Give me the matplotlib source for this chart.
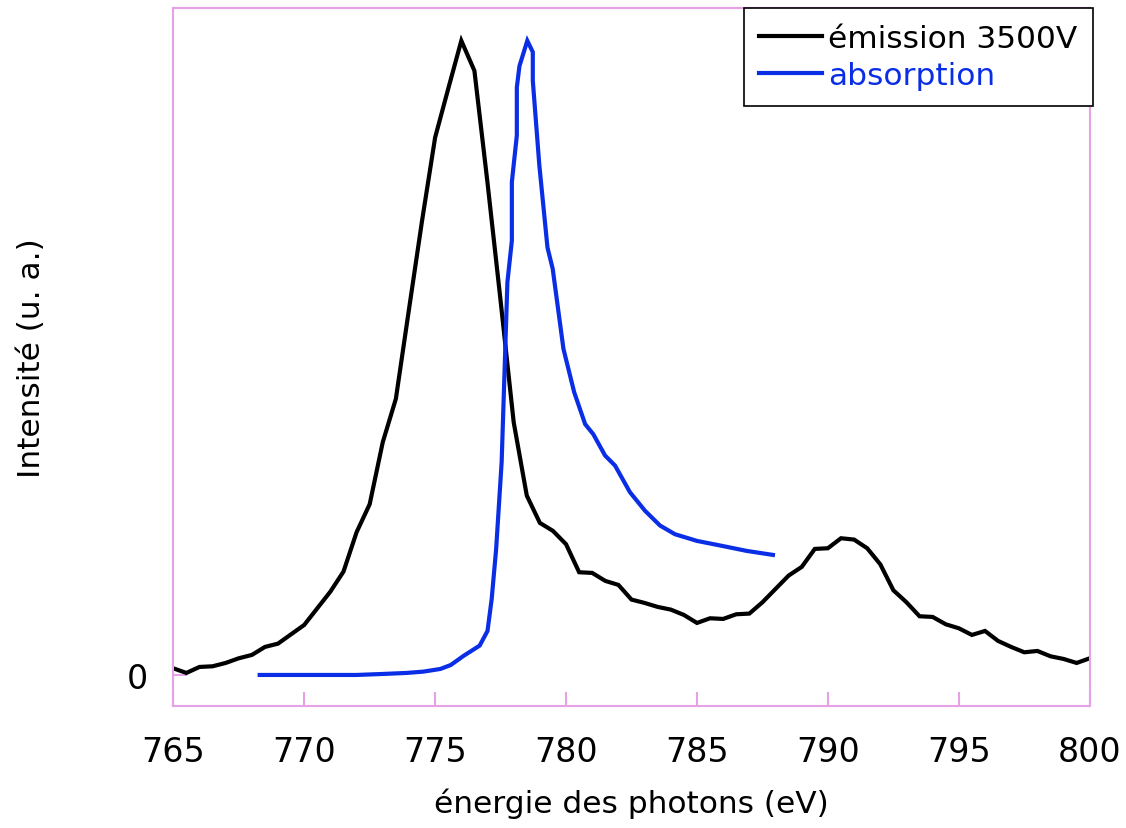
import numpy as np
import matplotlib.pyplot as plt

# emission spectrum, 0.5 eV steps
emission_energy = np.arange(765.0, 800.01, 0.5)
emission = [0.010, 0.003, 0.012, 0.013, 0.018, 0.025, 0.030, 0.042, 0.047, 0.061,
            0.075, 0.100, 0.125, 0.155, 0.214, 0.256, 0.349, 0.414, 0.548, 0.681,
            0.806, 0.879, 0.951, 0.906, 0.738, 0.561, 0.379, 0.269, 0.228, 0.216,
            0.196, 0.154, 0.153, 0.141, 0.135, 0.113, 0.108, 0.102, 0.098, 0.090,
            0.078, 0.085, 0.084, 0.091, 0.092, 0.109, 0.129, 0.149, 0.162, 0.189,
            0.190, 0.205, 0.203, 0.190, 0.166, 0.127, 0.109, 0.088, 0.087, 0.076,
            0.070, 0.060, 0.066, 0.051, 0.042, 0.034, 0.036, 0.028, 0.024, 0.018,
            0.025]

# absorption spectrum (irregular sampling)
absorption_energy = [768.3, 770.0, 772.0, 773.0, 773.9, 774.55, 775.2, 775.6, 776.1,
                     776.7, 777.0, 777.16, 777.33, 777.54, 777.76, 777.93, 777.93,
                     778.12, 778.12, 778.22, 778.52, 778.73, 778.73, 778.98, 779.29,
                     779.49, 779.9, 780.31, 780.73, 781.04, 781.49, 781.87, 782.44,
                     783.02, 783.59, 784.16, 785.0, 785.9, 786.9, 787.9]
absorption = [0.0, 0.0, 0.0, 0.0015, 0.003, 0.005, 0.009, 0.015, 0.029,
              0.044, 0.066, 0.114, 0.189, 0.319, 0.589, 0.651, 0.739,
              0.809, 0.881, 0.913, 0.951, 0.934, 0.891, 0.764, 0.641,
              0.609, 0.489, 0.424, 0.376, 0.361, 0.329, 0.314, 0.274,
              0.246, 0.224, 0.211, 0.201, 0.194, 0.186, 0.180]

pink = '#E6A2E6'
blue = '#0A2EE6'

fig = plt.figure(figsize=(11.26, 8.29), dpi=100)
ax = fig.add_axes([0.1539, 0.1468, 0.8139, 0.8423])

l1, = ax.plot(emission_energy, emission, color='black', lw=3, solid_joinstyle='miter')
l2, = ax.plot(absorption_energy, absorption, color=blue, lw=3, solid_joinstyle='miter')

ax.set_xlim(765, 800)
ax.set_ylim(-0.047, 1.0)
ax.set_xticks(np.arange(765, 801, 5))
ax.set_yticks([0])
ax.set_yticklabels(['0'])

for s in ax.spines.values():
    s.set_color(pink)
    s.set_linewidth(1.5)
ax.tick_params(direction='in', length=10, width=1.5, color=pink, labelsize=24)
ax.tick_params(axis='x', pad=21)
ax.tick_params(axis='y', pad=18)

ax.set_xlabel('énergie des photons (eV)', fontsize=22.5, labelpad=14)
ax.set_ylabel('Intensité (u. a.)', fontsize=22.5, labelpad=58)

leg = ax.legend([l1, l2], ['émission 3500V', 'absorption'],
                loc='upper right', bbox_to_anchor=(1093 / 1126, 1 - 9 / 829),
                bbox_transform=fig.transFigure, borderaxespad=0,
                fancybox=False, framealpha=1, edgecolor='black',
                fontsize=22.5, handlelength=2.0, handletextpad=0.2,
                borderpad=0.5, labelspacing=0.28)
leg.get_frame().set_linewidth(1.2)
leg.get_texts()[1].set_color(blue)

fig.savefig('out.png', dpi=100)
